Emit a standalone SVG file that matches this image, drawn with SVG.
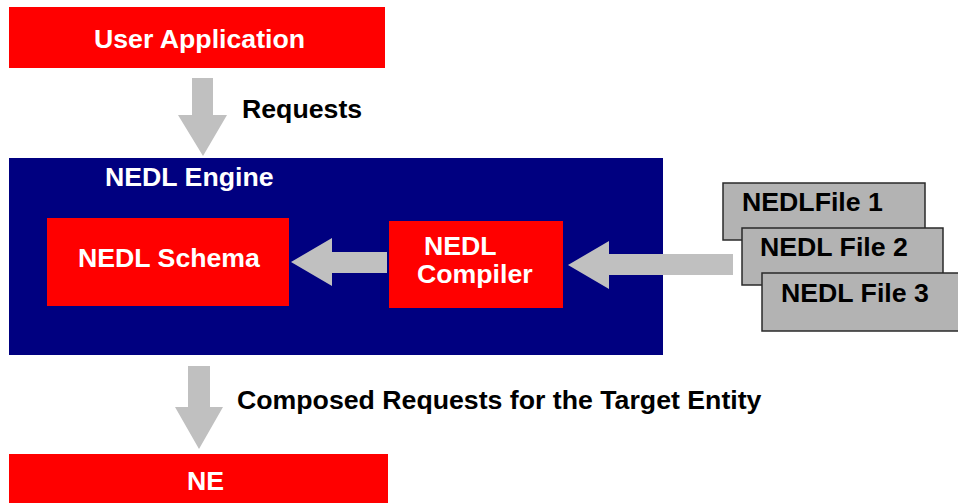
<svg xmlns="http://www.w3.org/2000/svg" width="958" height="503" viewBox="0 0 958 503">
  <style>
    .red { fill: #ff0000; }
    .navy { fill: #000080; }
    .file { fill: #b3b3b3; stroke: #2a2a2a; stroke-width: 1.5; }
    .arrow { fill: #c0c0c0; }
    text { font-family: "Liberation Sans", Arial, sans-serif; font-weight: bold; font-size: 26.7px; }
    .w { fill: #ffffff; }
    .k { fill: #000000; }
  </style>
  <rect width="958" height="503" fill="#ffffff"/>

  <g id="user-application">
    <rect class="red" x="9" y="7" width="376" height="61"/>
    <text class="w" x="94" y="48">User Application</text>
  </g>

  <g id="nedl-engine">
    <rect class="navy" x="9" y="158" width="654" height="197"/>
    <text class="w" x="105" y="186" font-size="27.8">NEDL Engine</text>
  </g>

  <g id="nedl-schema">
    <rect class="red" x="47" y="218" width="242" height="88"/>
    <text class="w" x="78" y="267">NEDL Schema</text>
  </g>

  <g id="nedl-compiler">
    <rect class="red" x="389" y="221" width="174" height="87"/>
    <text class="w" x="424" y="255">NEDL</text>
    <text class="w" x="417" y="283">Compiler</text>
  </g>

  <g id="nedl-file-1">
    <rect class="file" x="723" y="183" width="202" height="57"/>
    <text class="k" x="742" y="211">NEDLFile 1</text>
  </g>
  <g id="nedl-file-2">
    <rect class="file" x="742" y="228" width="201" height="57"/>
    <text class="k" x="760" y="256">NEDL File 2</text>
  </g>
  <g id="nedl-file-3">
    <rect class="file" x="762" y="273" width="200" height="58"/>
    <text class="k" x="781" y="302">NEDL File 3</text>
  </g>

  <g id="ne">
    <rect class="red" x="9" y="454" width="379" height="55"/>
    <text class="w" x="187" y="490">NE</text>
  </g>

  <g id="connectors">
    <!-- Requests: user application down to engine -->
    <polygon class="arrow" points="192,78 213,78 213,115 227,115 203,156 178,115 192,115"/>
    <text class="k" x="242" y="118">Requests</text>
    <!-- files into compiler -->
    <polygon class="arrow" points="733,254 733,275 609,275 609,289 568,265 609,241 609,254"/>
    <!-- compiler into schema -->
    <polygon class="arrow" points="387,252 387,273 332,273 332,286 291,262 332,238 332,252"/>
    <!-- engine down to NE -->
    <polygon class="arrow" points="188,366 210,366 210,407 223,407 199,449 175,407 188,407"/>
    <text class="k" x="237" y="409">Composed Requests for the Target Entity</text>
  </g>
</svg>
